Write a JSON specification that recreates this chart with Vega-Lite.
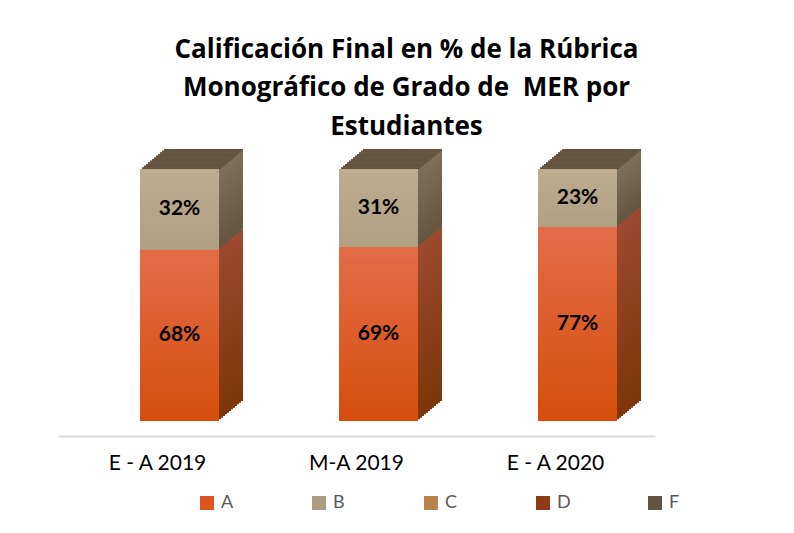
{
 "$schema": "https://vega.github.io/schema/vega-lite/v6.json",
 "autosize": "none",
 "width": 597, "height": 252,
 "padding": {"left": 58, "top": 169, "right": 139, "bottom": 112},
 "background": "white",
 "config": {"view": {"stroke": null}, "font": "Lato"},
 "title": {"text": ["Calificación Final en % de la Rúbrica", "Monográfico de Grado de \u00a0MER por", "Estudiantes"], "font": "Open Sans", "fontSize": 26, "fontWeight": "bold", "color": "#000000", "lineHeight": 38.5, "anchor": "middle", "dx": 50, "offset": 9},
 "data": {"values": [
  {"period": "E - A 2019", "grade": "A", "value": 68},
  {"period": "E - A 2019", "grade": "B", "value": 32},
  {"period": "M-A 2019", "grade": "A", "value": 69},
  {"period": "M-A 2019", "grade": "B", "value": 31},
  {"period": "E - A 2020", "grade": "A", "value": 77},
  {"period": "E - A 2020", "grade": "B", "value": 23}
 ]},
 "transform": [
  {"stack": "value", "groupby": ["period"], "sort": [{"field": "grade", "order": "ascending"}], "as": ["y0", "y1"]},
  {"calculate": "(datum.y0 + datum.y1) / 2", "as": "ymid"},
  {"calculate": "datum.value + '%'", "as": "label"}
 ],
 "encoding": {
  "x": {"field": "period", "type": "nominal", "sort": ["E - A 2019", "M-A 2019", "E - A 2020"], "scale": {"paddingInner": 0, "paddingOuter": 0},
        "axis": {"title": null, "labelAngle": 0, "ticks": false, "grid": false, "domainColor": "#d9d9d9", "domainWidth": 2, "offset": 15, "labelFont": "Lato", "labelFontSize": 21, "labelColor": "#000000", "labelPadding": 16}},
  "y": {"field": "y1", "type": "quantitative", "scale": {"domain": [0, 100]}, "axis": null}
 },
 "layer": [
  {"mark": {"type": "bar", "width": 79, "xOffset": 46, "yOffset": -20, "y2Offset": -20}, "encoding": {"y2": {"field": "y0"}, "color": {"condition": {"test": "datum.grade === 'A'", "value": {"gradient": "linear", "x1": 0, "y1": 0, "x2": 0, "y2": 1, "stops": [{"offset": 0, "color": "#9c4a30"}, {"offset": 1, "color": "#7e3508"}]}}, "value": {"gradient": "linear", "x1": 0, "y1": 0, "x2": 0, "y2": 1, "stops": [{"offset": 0, "color": "#7f705b"}, {"offset": 1, "color": "#63553f"}]}}}},
  {"transform": [{"filter": "datum.grade === 'B'"}], "mark": {"type": "tick", "orient": "horizontal", "size": 79, "thickness": 2, "xOffset": 46, "yOffset": -19.1, "color": "#594835"}},
  {"mark": {"type": "bar", "width": 79, "xOffset": 44, "yOffset": -18.3, "y2Offset": -18.3}, "encoding": {"y2": {"field": "y0"}, "color": {"condition": {"test": "datum.grade === 'A'", "value": {"gradient": "linear", "x1": 0, "y1": 0, "x2": 0, "y2": 1, "stops": [{"offset": 0, "color": "#9c4a30"}, {"offset": 1, "color": "#7e3508"}]}}, "value": {"gradient": "linear", "x1": 0, "y1": 0, "x2": 0, "y2": 1, "stops": [{"offset": 0, "color": "#7f705b"}, {"offset": 1, "color": "#63553f"}]}}}},
  {"transform": [{"filter": "datum.grade === 'B'"}], "mark": {"type": "tick", "orient": "horizontal", "size": 79, "thickness": 2, "xOffset": 44, "yOffset": -17.4, "color": "#594835"}},
  {"mark": {"type": "bar", "width": 79, "xOffset": 42, "yOffset": -16.7, "y2Offset": -16.7}, "encoding": {"y2": {"field": "y0"}, "color": {"condition": {"test": "datum.grade === 'A'", "value": {"gradient": "linear", "x1": 0, "y1": 0, "x2": 0, "y2": 1, "stops": [{"offset": 0, "color": "#9c4a30"}, {"offset": 1, "color": "#7e3508"}]}}, "value": {"gradient": "linear", "x1": 0, "y1": 0, "x2": 0, "y2": 1, "stops": [{"offset": 0, "color": "#7f705b"}, {"offset": 1, "color": "#63553f"}]}}}},
  {"transform": [{"filter": "datum.grade === 'B'"}], "mark": {"type": "tick", "orient": "horizontal", "size": 79, "thickness": 2, "xOffset": 42, "yOffset": -15.8, "color": "#594835"}},
  {"mark": {"type": "bar", "width": 79, "xOffset": 40, "yOffset": -15, "y2Offset": -15}, "encoding": {"y2": {"field": "y0"}, "color": {"condition": {"test": "datum.grade === 'A'", "value": {"gradient": "linear", "x1": 0, "y1": 0, "x2": 0, "y2": 1, "stops": [{"offset": 0, "color": "#9c4a30"}, {"offset": 1, "color": "#7e3508"}]}}, "value": {"gradient": "linear", "x1": 0, "y1": 0, "x2": 0, "y2": 1, "stops": [{"offset": 0, "color": "#7f705b"}, {"offset": 1, "color": "#63553f"}]}}}},
  {"transform": [{"filter": "datum.grade === 'B'"}], "mark": {"type": "tick", "orient": "horizontal", "size": 79, "thickness": 2, "xOffset": 40, "yOffset": -14.1, "color": "#594835"}},
  {"mark": {"type": "bar", "width": 79, "xOffset": 38, "yOffset": -13.3, "y2Offset": -13.3}, "encoding": {"y2": {"field": "y0"}, "color": {"condition": {"test": "datum.grade === 'A'", "value": {"gradient": "linear", "x1": 0, "y1": 0, "x2": 0, "y2": 1, "stops": [{"offset": 0, "color": "#9c4a30"}, {"offset": 1, "color": "#7e3508"}]}}, "value": {"gradient": "linear", "x1": 0, "y1": 0, "x2": 0, "y2": 1, "stops": [{"offset": 0, "color": "#7f705b"}, {"offset": 1, "color": "#63553f"}]}}}},
  {"transform": [{"filter": "datum.grade === 'B'"}], "mark": {"type": "tick", "orient": "horizontal", "size": 79, "thickness": 2, "xOffset": 38, "yOffset": -12.4, "color": "#594835"}},
  {"mark": {"type": "bar", "width": 79, "xOffset": 36, "yOffset": -11.7, "y2Offset": -11.7}, "encoding": {"y2": {"field": "y0"}, "color": {"condition": {"test": "datum.grade === 'A'", "value": {"gradient": "linear", "x1": 0, "y1": 0, "x2": 0, "y2": 1, "stops": [{"offset": 0, "color": "#9c4a30"}, {"offset": 1, "color": "#7e3508"}]}}, "value": {"gradient": "linear", "x1": 0, "y1": 0, "x2": 0, "y2": 1, "stops": [{"offset": 0, "color": "#7f705b"}, {"offset": 1, "color": "#63553f"}]}}}},
  {"transform": [{"filter": "datum.grade === 'B'"}], "mark": {"type": "tick", "orient": "horizontal", "size": 79, "thickness": 2, "xOffset": 36, "yOffset": -10.8, "color": "#594835"}},
  {"mark": {"type": "bar", "width": 79, "xOffset": 34, "yOffset": -10, "y2Offset": -10}, "encoding": {"y2": {"field": "y0"}, "color": {"condition": {"test": "datum.grade === 'A'", "value": {"gradient": "linear", "x1": 0, "y1": 0, "x2": 0, "y2": 1, "stops": [{"offset": 0, "color": "#9c4a30"}, {"offset": 1, "color": "#7e3508"}]}}, "value": {"gradient": "linear", "x1": 0, "y1": 0, "x2": 0, "y2": 1, "stops": [{"offset": 0, "color": "#7f705b"}, {"offset": 1, "color": "#63553f"}]}}}},
  {"transform": [{"filter": "datum.grade === 'B'"}], "mark": {"type": "tick", "orient": "horizontal", "size": 79, "thickness": 2, "xOffset": 34, "yOffset": -9.1, "color": "#594835"}},
  {"mark": {"type": "bar", "width": 79, "xOffset": 32, "yOffset": -8.3, "y2Offset": -8.3}, "encoding": {"y2": {"field": "y0"}, "color": {"condition": {"test": "datum.grade === 'A'", "value": {"gradient": "linear", "x1": 0, "y1": 0, "x2": 0, "y2": 1, "stops": [{"offset": 0, "color": "#9c4a30"}, {"offset": 1, "color": "#7e3508"}]}}, "value": {"gradient": "linear", "x1": 0, "y1": 0, "x2": 0, "y2": 1, "stops": [{"offset": 0, "color": "#7f705b"}, {"offset": 1, "color": "#63553f"}]}}}},
  {"transform": [{"filter": "datum.grade === 'B'"}], "mark": {"type": "tick", "orient": "horizontal", "size": 79, "thickness": 2, "xOffset": 32, "yOffset": -7.4, "color": "#594835"}},
  {"mark": {"type": "bar", "width": 79, "xOffset": 30, "yOffset": -6.7, "y2Offset": -6.7}, "encoding": {"y2": {"field": "y0"}, "color": {"condition": {"test": "datum.grade === 'A'", "value": {"gradient": "linear", "x1": 0, "y1": 0, "x2": 0, "y2": 1, "stops": [{"offset": 0, "color": "#9c4a30"}, {"offset": 1, "color": "#7e3508"}]}}, "value": {"gradient": "linear", "x1": 0, "y1": 0, "x2": 0, "y2": 1, "stops": [{"offset": 0, "color": "#7f705b"}, {"offset": 1, "color": "#63553f"}]}}}},
  {"transform": [{"filter": "datum.grade === 'B'"}], "mark": {"type": "tick", "orient": "horizontal", "size": 79, "thickness": 2, "xOffset": 30, "yOffset": -5.8, "color": "#594835"}},
  {"mark": {"type": "bar", "width": 79, "xOffset": 28, "yOffset": -5, "y2Offset": -5}, "encoding": {"y2": {"field": "y0"}, "color": {"condition": {"test": "datum.grade === 'A'", "value": {"gradient": "linear", "x1": 0, "y1": 0, "x2": 0, "y2": 1, "stops": [{"offset": 0, "color": "#9c4a30"}, {"offset": 1, "color": "#7e3508"}]}}, "value": {"gradient": "linear", "x1": 0, "y1": 0, "x2": 0, "y2": 1, "stops": [{"offset": 0, "color": "#7f705b"}, {"offset": 1, "color": "#63553f"}]}}}},
  {"transform": [{"filter": "datum.grade === 'B'"}], "mark": {"type": "tick", "orient": "horizontal", "size": 79, "thickness": 2, "xOffset": 28, "yOffset": -4.1, "color": "#594835"}},
  {"mark": {"type": "bar", "width": 79, "xOffset": 26, "yOffset": -3.3, "y2Offset": -3.3}, "encoding": {"y2": {"field": "y0"}, "color": {"condition": {"test": "datum.grade === 'A'", "value": {"gradient": "linear", "x1": 0, "y1": 0, "x2": 0, "y2": 1, "stops": [{"offset": 0, "color": "#9c4a30"}, {"offset": 1, "color": "#7e3508"}]}}, "value": {"gradient": "linear", "x1": 0, "y1": 0, "x2": 0, "y2": 1, "stops": [{"offset": 0, "color": "#7f705b"}, {"offset": 1, "color": "#63553f"}]}}}},
  {"transform": [{"filter": "datum.grade === 'B'"}], "mark": {"type": "tick", "orient": "horizontal", "size": 79, "thickness": 2, "xOffset": 26, "yOffset": -2.4, "color": "#594835"}},
  {"mark": {"type": "bar", "width": 79, "xOffset": 24, "yOffset": -1.7, "y2Offset": -1.7}, "encoding": {"y2": {"field": "y0"}, "color": {"condition": {"test": "datum.grade === 'A'", "value": {"gradient": "linear", "x1": 0, "y1": 0, "x2": 0, "y2": 1, "stops": [{"offset": 0, "color": "#9c4a30"}, {"offset": 1, "color": "#7e3508"}]}}, "value": {"gradient": "linear", "x1": 0, "y1": 0, "x2": 0, "y2": 1, "stops": [{"offset": 0, "color": "#7f705b"}, {"offset": 1, "color": "#63553f"}]}}}},
  {"transform": [{"filter": "datum.grade === 'B'"}], "mark": {"type": "tick", "orient": "horizontal", "size": 79, "thickness": 2, "xOffset": 24, "yOffset": -0.8, "color": "#594835"}},
  {"mark": {"type": "bar", "width": 79, "xOffset": 22},
   "encoding": {"y2": {"field": "y0"},
    "color": {"field": "grade", "type": "nominal", "scale": {"domain": ["A", "B", "C", "D", "F"], "range": ["#dc5720", "#ad9d80", "#b7824b", "#8e3a14", "#625440"]},
     "legend": {"title": null, "orient": "none", "legendX": 140, "legendY": 325, "direction": "horizontal", "gridAlign": "all", "symbolType": "square", "symbolSize": 196, "symbolStrokeWidth": 0, "labelFont": "Lato", "labelFontSize": 18, "labelColor": "#595959", "columnPadding": 75, "labelOffset": 5, "padding": 0}}}},
  {"mark": {"type": "bar", "width": 79, "xOffset": 22},
   "encoding": {"y2": {"field": "y0"},
    "color": {"condition": {"test": "datum.grade === 'A'", "value": {"gradient": "linear", "x1": 0, "y1": 0, "x2": 0, "y2": 1, "stops": [{"offset": 0, "color": "#e36c48"}, {"offset": 1, "color": "#d64e0c"}]}},
              "value": {"gradient": "linear", "x1": 0, "y1": 0, "x2": 0, "y2": 1, "stops": [{"offset": 0, "color": "#bdac90"}, {"offset": 1, "color": "#b09f83"}]}}}},
  {"mark": {"type": "text", "xOffset": 22, "font": "Lato", "fontSize": 21, "fontWeight": "bold", "color": "#000000"},
   "encoding": {"y": {"field": "ymid", "type": "quantitative"}, "text": {"field": "label", "type": "nominal"}}}
 ]
}
